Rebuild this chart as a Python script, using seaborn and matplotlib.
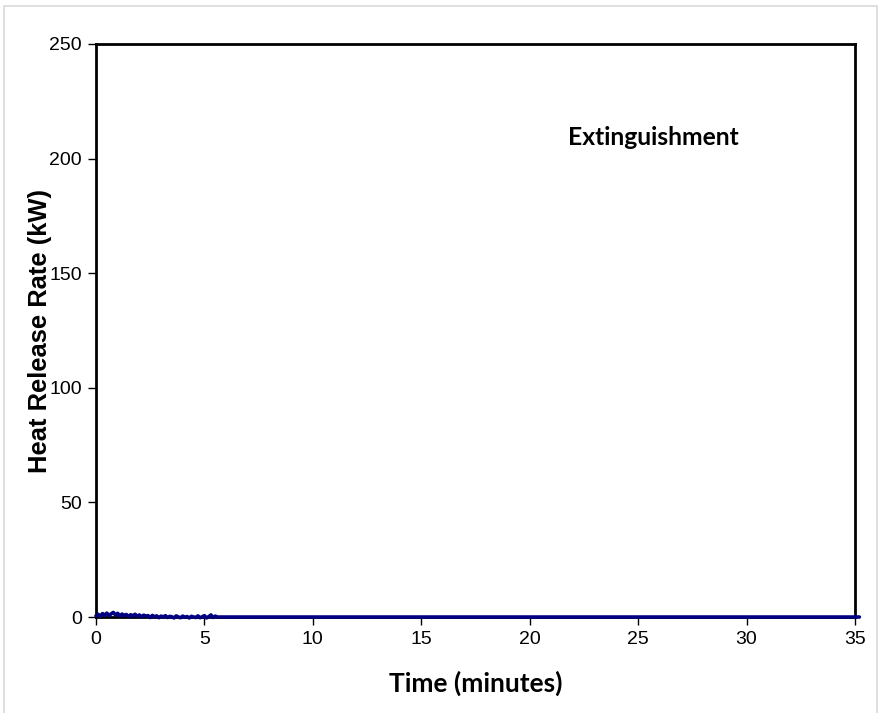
"""Heat release rate vs time, extinguishment test."""

import matplotlib
matplotlib.use("Agg")
import matplotlib.pyplot as plt
from matplotlib.patches import Rectangle
import pandas as pd
import seaborn as sns

# Measured HRR (kW) over the first ~5.5 minutes, then zero after extinguishment
time_min = [0.0, 0.1, 0.2, 0.3, 0.4, 0.5, 0.6, 0.7, 0.8, 0.9,
            1.0, 1.1, 1.2, 1.3, 1.4, 1.5, 1.6, 1.7, 1.8, 1.9,
            2.0, 2.1, 2.2, 2.3, 2.4, 2.5, 2.6, 2.7, 2.8, 2.9,
            3.0, 3.1, 3.2, 3.3, 3.4, 3.5, 3.6, 3.7, 3.8, 3.9,
            4.0, 4.1, 4.2, 4.3, 4.4, 4.5, 4.6, 4.7, 4.8, 4.9,
            5.0, 5.1, 5.2, 5.3, 5.4, 5.5, 5.6, 35.2]
hrr_kw = [0.5, 1.2, 0.3, 1.5, 0.8, 1.7, 0.6, 1.4, 2.0, 0.9,
          1.6, 0.4, 1.3, 0.7, 1.1, 0.2, 1.0, 0.5, 1.2, 0.3,
          0.9, 0.1, 0.8, 0.4, 0.6, -0.2, 0.7, 0.1, 0.5, -0.3,
          0.4, 0.0, 0.6, -0.2, 0.3, 0.1, -0.4, 0.5, 0.0, -0.3,
          0.4, -0.1, 0.2, -0.4, 0.3, 0.0, -0.2, 0.5, -0.3, 0.1,
          0.6, -0.4, 0.2, 0.9, -0.2, 0.4, 0.0, 0.0]
x_ticks = [0, 5, 10, 15, 20, 25, 30, 35]
y_ticks = [0, 50, 100, 150, 200, 250]

df = pd.DataFrame({"time": time_min, "hrr": hrr_kw})

sns.set_theme(style="white", rc={"text.color": "black",
                                 "axes.labelcolor": "black",
                                 "xtick.color": "black",
                                 "ytick.color": "black"})
plt.rcParams["font.family"] = ["Liberation Sans", "DejaVu Sans"]

fig = plt.figure(figsize=(8.83, 7.13), dpi=100)
ax = fig.add_axes([0.1087, 0.1346, 0.8596, 0.8037])

sns.lineplot(data=df, x="time", y="hrr", ax=ax, color="#000080",
             linewidth=2.6, estimator=None, sort=False)
for ln in ax.get_lines():
    ln.set_zorder(5)
    ln.set_clip_on(False)

ax.set_xlim(0, 35)
ax.set_ylim(0, 250)
ax.set_xticks(x_ticks)
ax.set_yticks(y_ticks)
ax.tick_params(axis="both", direction="out", length=6, width=1, pad=4,
               colors="black", labelsize=14, bottom=True, left=True)
for side in ax.spines.values():
    side.set_color("black")
    side.set_linewidth(2)

ax.set_xlabel("Time (minutes)", fontsize=19, fontweight="bold",
              family=["Lato", "DejaVu Sans"], color="black")
ax.xaxis.set_label_coords(0.5, -0.093)
ax.set_ylabel("Heat Release Rate (kW)", fontsize=18.4, fontweight="bold",
              family=["Liberation Sans", "DejaVu Sans"], color="black")
ax.yaxis.set_label_coords(-0.074, 0.5)
ax.yaxis.label.set_va("center")

ax.text(25.7, 209, "Extinguishment", fontsize=17.7, fontweight="bold",
        family=["Lato", "DejaVu Sans"], ha="center", va="center",
        color="black")

# light frame around the whole chart
fig.patches.append(Rectangle((4 / 883, -0.01), 873 / 883, 1 - 6 / 713 + 0.01,
                             transform=fig.transFigure, fill=False,
                             edgecolor="#d9d9d9", linewidth=1.2))

fig.savefig("out.png", dpi=100)
plt.close(fig)
